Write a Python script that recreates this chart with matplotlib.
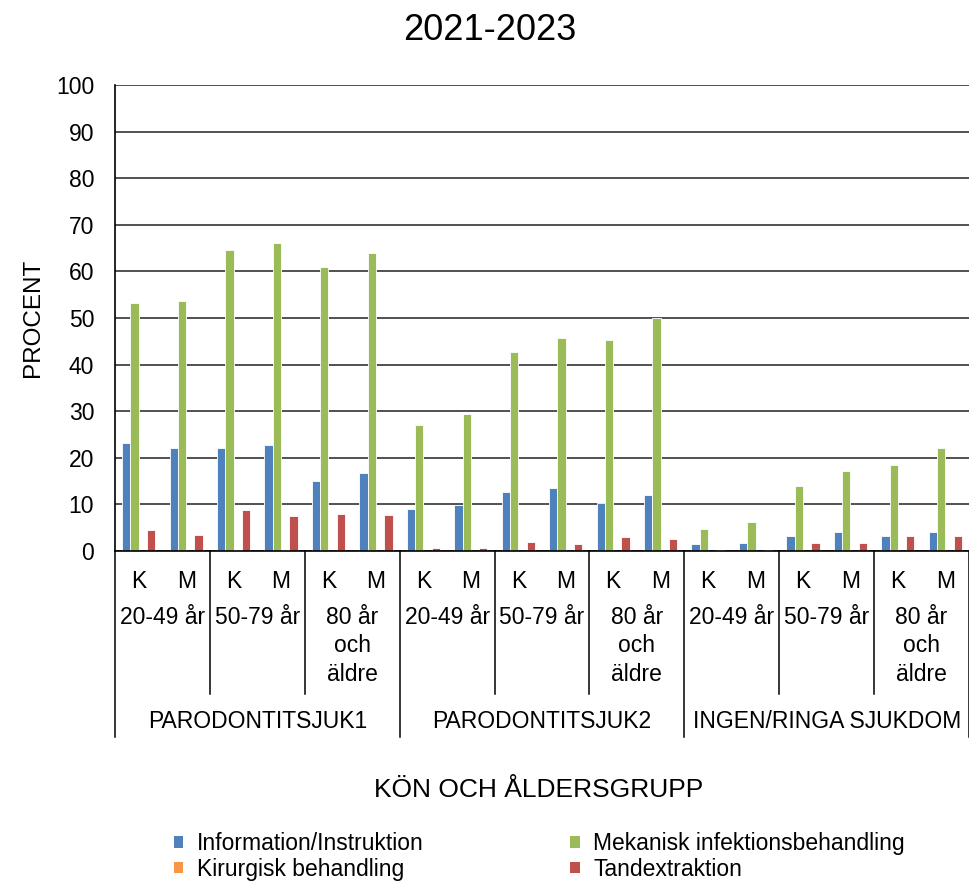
import numpy as np
import matplotlib
matplotlib.use("Agg")
import matplotlib.pyplot as plt
from matplotlib.patches import Patch

plt.rcParams['font.family'] = ['Liberation Sans', 'DejaVu Sans']

# data (procent)
kon = ['K', 'M']
alder = ['20-49 år', '50-79 år', '80 år\noch\näldre']
grupper = ['PARODONTITSJUK1', 'PARODONTITSJUK2', 'INGEN/RINGA SJUKDOM']

info = [23.1, 22.2, 22.2, 22.7, 15.1, 16.7, 9.0, 9.8, 12.7, 13.5, 10.2, 12.1, 1.4, 1.7, 3.3, 4.1, 3.3, 4.1]
mekanisk = [53.3, 53.6, 64.5, 66.2, 61.0, 64.0, 27.0, 29.5, 42.7, 45.7, 45.2, 50.0, 4.7, 6.3, 14.0, 17.1, 18.4, 22.0]
kirurgisk = [0, 0, 0.3, 0.3, 0, 0, 0, 0, 0, 0, 0, 0, 0, 0, 0, 0, 0, 0]
tandext = [4.4, 3.4, 8.8, 7.5, 7.9, 7.7, 0.6, 0.6, 1.9, 1.4, 3.0, 2.5, 0.3, 0.3, 1.7, 1.7, 3.3, 3.3]

serier = ['Information/Instruktion', 'Mekanisk infektionsbehandling',
          'Kirurgisk behandling', 'Tandextraktion']
farger = ['#4F81BD', '#9BBB59', '#F79646', '#C0504D']

W, H = 969, 882
fig = plt.figure(figsize=(W / 100, H / 100), dpi=100)
ax_l, ax_r, ax_t, ax_b = 115, 969, 85, 551
ax = fig.add_axes([ax_l / W, 1 - ax_b / H, (ax_r - ax_l) / W, (ax_b - ax_t) / H])

n = len(info)
x = np.arange(n) + 0.5
bw = 0.175
for i, (vals, f) in enumerate(zip([info, mekanisk, kirurgisk, tandext], farger)):
    v = np.array(vals, dtype=float)
    v[v == 0] = np.nan   # no mark where value is 0
    ax.bar(x + (i - 1.5) * bw, v, bw, color=f, edgecolor='white', linewidth=0.6, zorder=3)

ax.set_xlim(0, n)
ax.set_ylim(0, 100)
ax.set_yticks(np.arange(0, 101, 10))
ax.yaxis.grid(True, color='#333333', linewidth=1.2, zorder=0)
ax.tick_params(axis='y', length=0, pad=15, labelsize=16.5)
for s in ['top', 'right']:
    ax.spines[s].set_visible(False)
for s in ['left', 'bottom']:
    ax.spines[s].set_linewidth(1.2)
    ax.spines[s].set_zorder(4)

# K / M
ax.set_xticks(x)
ax.set_xticklabels(kon * (n // 2), fontsize=16.5)
ax.tick_params(axis='x', length=0, pad=14)

tr = ax.get_xaxis_transform()
h = ax_b - ax_t
def yf(px):
    return (ax_b - px) / h

# age groups
for j in range(9):
    ax.text(2 * j + 1, yf(606), alder[j % 3], transform=tr, ha='center', va='top',
            fontsize=16.5, linespacing=1.3)
# disease groups
for k in range(3):
    ax.text(6 * k + 3, yf(722), grupper[k], transform=tr, ha='center', va='center', fontsize=16.5)

# separator lines
for j in range(1, 9):
    if j % 3:
        ax.plot([2 * j, 2 * j], [0, yf(694)], transform=tr, color='black', lw=1.1, clip_on=False)
for k in range(4):
    ax.plot([6 * k, 6 * k], [0, yf(737)], transform=tr, color='black', lw=1.1, clip_on=False)

fig.text(490 / W, 1 - 30 / H, '2021-2023', ha='center', va='center', fontsize=26)
fig.text(33 / W, 1 - 318 / H, 'PROCENT', ha='center', va='center', rotation=90, fontsize=17.5)
fig.text(539 / W, 1 - 790 / H, 'KÖN OCH ÅLDERSGRUPP', ha='center', va='center', fontsize=19)

# legend fills column by column: put entries so rows read info|mek, kir|tand
order = [0, 2, 1, 3]
handles = [Patch(facecolor=farger[i], edgecolor='none') for i in order]
fig.legend(handles, [serier[i] for i in order], ncol=2, loc='upper left',
           bbox_to_anchor=(174 / W, 1 - 832 / H),
           frameon=False, fontsize=16.5, borderpad=0, borderaxespad=0,
           handlelength=0.4, handleheight=0.4, handletextpad=0.6,
           columnspacing=6.4, labelspacing=0.12)

fig.savefig('out.png', dpi=100)
